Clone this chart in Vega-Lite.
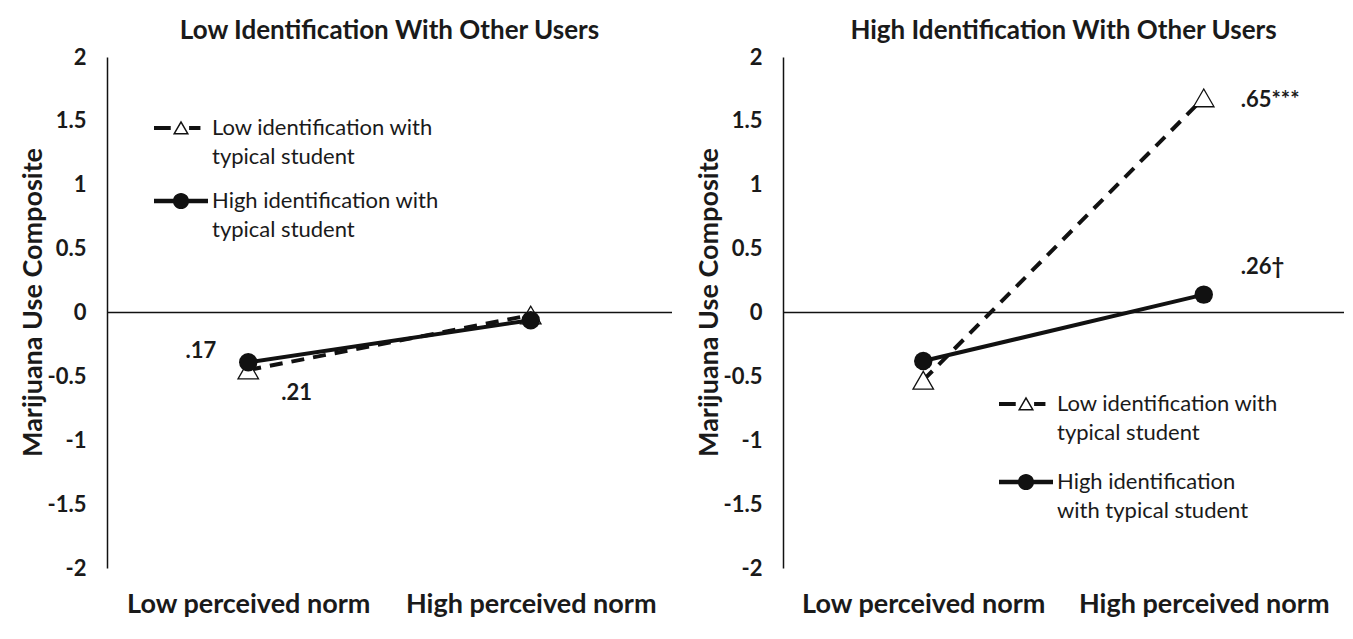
{
  "$schema": "https://vega.github.io/schema/vega-lite/v6.json",
  "background": "white",
  "padding": {"left": 19, "top": 18, "right": 5, "bottom": 5},
  "config": {
    "font": "Lato",
    "view": {"stroke": null},
    "style": {"guide-label": {"lineHeight": 29}},
    "axis": {"grid": false, "ticks": false, "labelFont": "Lato", "titleFont": "Lato", "labelColor": "#1a1a1a", "titleColor": "#1a1a1a"},
    "axisY": {"labelFontSize": 22, "labelFontWeight": "bold", "labelPadding": 21, "titleFontSize": 27, "titleFontWeight": "bold", "titlePadding": 0, "titleY": 245, "domainColor": "#111111", "domainWidth": 1.5, "labelExpr": "'' + datum.value"},
    "axisX": {"labelFontSize": 27, "labelFontWeight": "bold", "labelPadding": 23, "domain": false, "labelLimit": 400, "labelAngle": 0},
    "title": {"font": "Lato", "fontSize": 26, "fontWeight": "bold", "color": "#1a1a1a", "offset": 2, "anchor": "middle"},
    "legend": {"labelFont": "Lato", "labelFontSize": 22, "labelColor": "#1a1a1a", "labelLimit": 500}
  },
  "datasets": {
    "pts": [
      {"panel": "low", "id": "Low", "norm": "Low perceived norm", "y": -0.45},
      {"panel": "low", "id": "Low", "norm": "High perceived norm", "y": -0.02},
      {"panel": "low", "id": "High", "norm": "Low perceived norm", "y": -0.39},
      {"panel": "low", "id": "High", "norm": "High perceived norm", "y": -0.06},
      {"panel": "high", "id": "Low", "norm": "Low perceived norm", "y": -0.53},
      {"panel": "high", "id": "Low", "norm": "High perceived norm", "y": 1.68},
      {"panel": "high", "id": "High", "norm": "Low perceived norm", "y": -0.38},
      {"panel": "high", "id": "High", "norm": "High perceived norm", "y": 0.14}
    ],
    "notes": [
      {"panel": "low", "norm": "Low perceived norm", "y": -0.30, "label": ".17", "side": "left"},
      {"panel": "low", "norm": "Low perceived norm", "y": -0.63, "label": ".21", "side": "right"},
      {"panel": "high", "norm": "High perceived norm", "y": 1.66, "label": ".65***", "side": "right"},
      {"panel": "high", "norm": "High perceived norm", "y": 0.36, "label": ".26†", "side": "right"}
    ],
    "ref": [{"y": 0}]
  },
  "spacing": 22,
  "resolve": {"scale": {"shape": "independent", "x": "independent", "y": "independent"}, "legend": {"shape": "independent"}},
  "hconcat": [
    {
      "width": 565,
      "height": 511,
      "title": {"text": "Low Identification With Other Users"},
      "encoding": {
        "y": {"field": "y", "type": "quantitative", "title": "Marijuana Use Composite", "scale": {"domain": [-2, 2], "nice": false, "zero": false}, "axis": {"values": [-2, -1.5, -1, -0.5, 0, 0.5, 1, 1.5, 2]}}
      },
      "layer": [
        {
          "data": {"name": "ref"},
          "mark": {"type": "rule", "color": "#111111", "strokeWidth": 1.3},
          "encoding": {}
        },
        {
          "data": {"name": "pts"},
          "transform": [{"filter": "datum.panel == 'low' && datum.id == 'Low'"}],
          "mark": {"type": "line", "color": "#111111", "strokeWidth": 4, "strokeDash": [13, 9]},
          "encoding": {
            "x": {"field": "norm", "type": "nominal", "title": null, "scale": {"type": "point", "padding": 0.5, "domain": ["Low perceived norm", "High perceived norm"]}}
          }
        },
        {
          "data": {"name": "pts"},
          "transform": [{"filter": "datum.panel == 'low' && datum.id == 'High'"}],
          "mark": {"type": "line", "color": "#111111", "strokeWidth": 4},
          "encoding": {
            "x": {"field": "norm", "type": "nominal", "title": null, "scale": {"type": "point", "padding": 0.5, "domain": ["Low perceived norm", "High perceived norm"]}}
          }
        },
        {
          "data": {"name": "pts"},
          "transform": [{"filter": "datum.panel == 'low' && datum.id == 'Low'"}],
          "mark": {"type": "point", "shape": "triangle-up", "filled": true, "fill": "white", "stroke": "#111111", "strokeWidth": 1.3, "size": 420, "opacity": 1},
          "encoding": {
            "x": {"field": "norm", "type": "nominal", "title": null, "scale": {"type": "point", "padding": 0.5, "domain": ["Low perceived norm", "High perceived norm"]}}
          }
        },
        {
          "data": {"name": "pts"},
          "transform": [{"filter": "datum.panel == 'low' && datum.id == 'High'"}],
          "mark": {"type": "point", "shape": "circle", "filled": true, "color": "#111111", "size": 340, "opacity": 1},
          "encoding": {
            "x": {"field": "norm", "type": "nominal", "title": null, "scale": {"type": "point", "padding": 0.5, "domain": ["Low perceived norm", "High perceived norm"]}}
          }
        },
        {
          "data": {"name": "pts"},
          "transform": [{"filter": "datum.panel == 'low'"}],
          "mark": {"type": "point", "filled": true, "color": "#111111", "size": 0, "opacity": 1},
          "encoding": {
            "x": {"field": "norm", "type": "nominal", "title": null, "scale": {"type": "point", "padding": 0.5, "domain": ["Low perceived norm", "High perceived norm"]}},
            "shape": {
              "field": "id", "type": "nominal",
              "scale": {"domain": ["Low", "High"], "range": [
                "M-1,-0.075H-0.38V0.075H-1Z M0.3,-0.075H0.72V0.075H0.3Z M0,-0.28L0.3,0.24L-0.3,0.24Z M0,-0.17L-0.205,0.185L0.205,0.185Z",
                "M-1,-0.085H-0.28V0.085H-1Z M0.28,-0.085H1V0.085H0.28Z M-0.3,0A0.3,0.3 0 1,1 0.3,0A0.3,0.3 0 1,1 -0.3,0Z"
              ]},
              "legend": {
                "orient": "none", "legendX": 47, "legendY": 44, "title": null, "padding": 0,
                "symbolSize": 2916, "symbolFillColor": "#111111", "symbolStrokeWidth": 0, "symbolOpacity": 1,
                "labelOffset": 4, "rowPadding": 6, "labelBaseline": "middle",
                "labelExpr": "datum.value == 'Low' ? ['Low identification with', 'typical student'] : ['High identification with', 'typical student']"
              }
            }
          }
        },
        {
          "data": {"name": "notes"},
          "transform": [{"filter": "datum.panel == 'low' && datum.side == 'left'"}],
          "mark": {"type": "text", "font": "Lato", "fontSize": 22, "fontWeight": "bold", "color": "#1a1a1a", "align": "right", "baseline": "middle", "dx": -32},
          "encoding": {
            "x": {"field": "norm", "type": "nominal", "title": null, "scale": {"type": "point", "padding": 0.5, "domain": ["Low perceived norm", "High perceived norm"]}},
            "text": {"field": "label"}
          }
        },
        {
          "data": {"name": "notes"},
          "transform": [{"filter": "datum.panel == 'low' && datum.side == 'right'"}],
          "mark": {"type": "text", "font": "Lato", "fontSize": 22, "fontWeight": "bold", "color": "#1a1a1a", "align": "left", "baseline": "middle", "dx": 33},
          "encoding": {
            "x": {"field": "norm", "type": "nominal", "title": null, "scale": {"type": "point", "padding": 0.5, "domain": ["Low perceived norm", "High perceived norm"]}},
            "text": {"field": "label"}
          }
        }
      ]
    },
    {
      "width": 561,
      "height": 511,
      "title": {"text": "High Identification With Other Users"},
      "encoding": {
        "y": {"field": "y", "type": "quantitative", "title": "Marijuana Use Composite", "scale": {"domain": [-2, 2], "nice": false, "zero": false}, "axis": {"values": [-2, -1.5, -1, -0.5, 0, 0.5, 1, 1.5, 2]}}
      },
      "layer": [
        {
          "data": {"name": "ref"},
          "mark": {"type": "rule", "color": "#111111", "strokeWidth": 1.3},
          "encoding": {}
        },
        {
          "data": {"name": "pts"},
          "transform": [{"filter": "datum.panel == 'high' && datum.id == 'Low'"}],
          "mark": {"type": "line", "color": "#111111", "strokeWidth": 4, "strokeDash": [13, 9]},
          "encoding": {
            "x": {"field": "norm", "type": "nominal", "title": null, "scale": {"type": "point", "padding": 0.5, "domain": ["Low perceived norm", "High perceived norm"]}}
          }
        },
        {
          "data": {"name": "pts"},
          "transform": [{"filter": "datum.panel == 'high' && datum.id == 'High'"}],
          "mark": {"type": "line", "color": "#111111", "strokeWidth": 4},
          "encoding": {
            "x": {"field": "norm", "type": "nominal", "title": null, "scale": {"type": "point", "padding": 0.5, "domain": ["Low perceived norm", "High perceived norm"]}}
          }
        },
        {
          "data": {"name": "pts"},
          "transform": [{"filter": "datum.panel == 'high' && datum.id == 'Low'"}],
          "mark": {"type": "point", "shape": "triangle-up", "filled": true, "fill": "white", "stroke": "#111111", "strokeWidth": 1.3, "size": 420, "opacity": 1},
          "encoding": {
            "x": {"field": "norm", "type": "nominal", "title": null, "scale": {"type": "point", "padding": 0.5, "domain": ["Low perceived norm", "High perceived norm"]}}
          }
        },
        {
          "data": {"name": "pts"},
          "transform": [{"filter": "datum.panel == 'high' && datum.id == 'High'"}],
          "mark": {"type": "point", "shape": "circle", "filled": true, "color": "#111111", "size": 340, "opacity": 1},
          "encoding": {
            "x": {"field": "norm", "type": "nominal", "title": null, "scale": {"type": "point", "padding": 0.5, "domain": ["Low perceived norm", "High perceived norm"]}}
          }
        },
        {
          "data": {"name": "pts"},
          "transform": [{"filter": "datum.panel == 'high'"}],
          "mark": {"type": "point", "filled": true, "color": "#111111", "size": 0, "opacity": 1},
          "encoding": {
            "x": {"field": "norm", "type": "nominal", "title": null, "scale": {"type": "point", "padding": 0.5, "domain": ["Low perceived norm", "High perceived norm"]}},
            "shape": {
              "field": "id", "type": "nominal",
              "scale": {"domain": ["Low", "High"], "range": [
                "M-1,-0.075H-0.38V0.075H-1Z M0.3,-0.075H0.72V0.075H0.3Z M0,-0.28L0.3,0.24L-0.3,0.24Z M0,-0.17L-0.205,0.185L0.205,0.185Z",
                "M-1,-0.085H-0.28V0.085H-1Z M0.28,-0.085H1V0.085H0.28Z M-0.3,0A0.3,0.3 0 1,1 0.3,0A0.3,0.3 0 1,1 -0.3,0Z"
              ]},
              "legend": {
                "orient": "none", "legendX": 216, "legendY": 320, "title": null, "padding": 0,
                "symbolSize": 2916, "symbolFillColor": "#111111", "symbolStrokeWidth": 0, "symbolOpacity": 1,
                "labelOffset": 4, "rowPadding": 11, "labelBaseline": "middle",
                "labelExpr": "datum.value == 'Low' ? ['Low identification with', 'typical student'] : ['High identification', 'with typical student']"
              }
            }
          }
        },
        {
          "data": {"name": "notes"},
          "transform": [{"filter": "datum.panel == 'high'"}],
          "mark": {"type": "text", "font": "Lato", "fontSize": 22, "fontWeight": "bold", "color": "#1a1a1a", "align": "left", "baseline": "middle", "dx": 37},
          "encoding": {
            "x": {"field": "norm", "type": "nominal", "title": null, "scale": {"type": "point", "padding": 0.5, "domain": ["Low perceived norm", "High perceived norm"]}},
            "text": {"field": "label"}
          }
        }
      ]
    }
  ]
}
